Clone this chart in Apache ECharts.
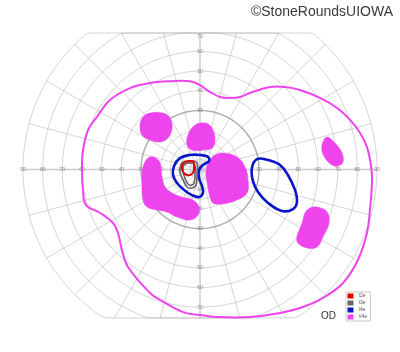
<!DOCTYPE html>
<html><head><meta charset="utf-8">
<script src="https://cdn.jsdelivr.net/npm/echarts@6/dist/echarts.min.js"></script>
<style>html,body{margin:0;padding:0;background:#fff}#c{width:400px;height:352px}</style>
</head><body><div id="c"></div>
<script>
// ---- grid definition (degrees) ----
const ringRadii = [5, 10, 15, 20, 30, 40, 50, 60, 70, 80, 90];
const darkRing = 30;
const meridianAngles = [0,15,30,45,60,75,90,105,120,135,150,165,180,195,210,225,240,255,270,285,300,315,330,345];
const bandTop = 69.4;      // chart is cut flat at these eccentricities
const bandBottom = -75.5;
const hTickLabels = [10,20,30,40,50,60,70,80,90];
const vTopLabels = [10,20,30,40,50,60,70];
const vBottomLabels = [10,20,30,40,50,60,70];

// ---- isopters, [x (deg, + = right), y (deg, + = up)] ----
const isoV4eOutline = [
  [-56.9,20.1],[-52.4,26.7],[-45.8,35.3],[-35.6,41.4],[-25.4,44.0],[-15.3,44.9],[-5.1,44.9],[0,42.9],
  [5.1,39.4],[10.2,36.9],[15.3,36.4],[20.3,36.9],[25.4,38.9],[35.6,41.9],[43.2,41.9],[50.8,40.4],
  [61.0,36.4],[69.7,31.3],[76.3,25.2],[81.4,18.6],[84.9,11.4],[86.9,2.3],[87.5,-5.3],[86.4,-20.6],
  [84.9,-32.3],[80.3,-46.0],[72.7,-57.7],[62.5,-65.3],[52.4,-69.9],[40.7,-73.0],[25.4,-75.0],[8.6,-75.0],
  [0,-74.0],[-8.6,-72.5],[-20.3,-66.3],[-25.4,-62.8],[-36.6,-49.6],[-39.7,-40.9],[-41.7,-32.3],[-44.2,-27.2],
  [-50.8,-22.1],[-58.0,-18.0],[-59.5,-10.4],[-60.0,-0.3],[-59.5,9.9]
];
const scotomaA = [[-25.4,28.7],[-18.8,28.7],[-15.3,26.2],[-14.2,21.1],[-16.3,16.0],[-20.3,14.0],[-25.4,15.0],[-29.5,17.5],[-30.5,22.6],[-29.0,26.7]];
const scotomaB = [[0,23.6],[4.1,23.1],[6.6,20.1],[7.6,15.0],[6.1,10.9],[1.5,9.9],[-4.1,9.9],[-6.6,12.5],[-6.1,17.5],[-3.6,21.6]];
const scotomaC = [[-25.4,6.4],[-20.8,4.3],[-19.3,-3.8],[-17.8,-8.9],[-14.2,-11.9],[-9.2,-14.0],[-3.6,-15.5],[-0.5,-19.1],[-1.0,-23.1],[-5.1,-25.7],[-11.7,-24.2],[-16.8,-21.6],[-21.9,-20.6],[-26.9,-19.1],[-29.0,-15.5],[-29.5,-6.9],[-29.0,1.3]];
const scotomaD = [[11.7,8.4],[18.8,6.4],[22.9,1.3],[24.4,-5.3],[23.9,-11.9],[18.8,-15.5],[11.7,-17.5],[6.6,-17.0],[5.1,-14.0],[3.6,-6.9],[3.1,-0.3],[5.1,4.8],[7.6,7.4]];
const scotomaE = [[64.6,16.5],[68.6,13.5],[72.2,8.4],[72.7,3.8],[70.2,1.8],[67.1,2.3],[63.6,5.8],[62.0,9.9],[62.5,14.0]];
const scotomaF = [[59.5,-19.1],[64.6,-21.6],[65.6,-27.2],[62.5,-34.3],[59.5,-39.4],[54.4,-39.9],[49.8,-37.4],[49.3,-34.3],[51.9,-27.2],[53.4,-22.1],[55.9,-19.6]];
const isoI4eCentral = [[-10.2,5.8],[-5.1,7.4],[0,7.4],[4.1,6.4],[4.6,4.3],[1.5,2.3],[-0.5,-0.3],[-0.5,-4.3],[1.0,-8.4],[1.5,-11.9],[-0.5,-14.0],[-4.1,-13.0],[-8.1,-10.4],[-11.7,-6.9],[-13.7,-2.8],[-13.2,1.8]];
const isoI4eBlindSpot = [[29.0,5.3],[34.6,4.8],[40.7,2.3],[44.7,-2.8],[48.3,-10.4],[49.3,-16.5],[47.3,-20.1],[41.7,-21.1],[34.6,-17.0],[29.5,-11.4],[26.9,-5.8],[26.4,0.8]];
const isoI3eOuter = [[-8.6,3.8],[-4.1,4.3],[-1.5,3.3],[-1.5,-1.8],[-2.0,-7.9],[-4.1,-9.4],[-6.6,-8.9],[-8.6,-5.3],[-10.2,-1.3],[-9.7,2.3]];
const isoI3eInner = [[-7.6,2.8],[-4.1,3.3],[-2.5,2.0],[-2.5,-2.0],[-3.0,-7.0],[-4.6,-8.0],[-6.1,-7.4],[-7.6,-4.6],[-8.6,-1.0],[-8.4,1.5]];
const isoI2e = [[-7.6,3.8],[-4.1,4.3],[-3.1,3.3],[-3.1,-0.3],[-4.1,-2.3],[-6.6,-2.8],[-8.6,-1.3],[-9.2,1.8]];

const legendNames = ['I2e','I3e','I4e','V4e'];
const colors = {I2e:'#e00000', I3e:'#666666', I4e:'#0a14c8', V4e:'#ee44ee'};

// ---- build grid polylines ----
const clampY = y => Math.max(bandBottom, Math.min(bandTop, y));
const gridLines = [];
ringRadii.forEach(r => {
  const pts = [];
  for (let a = 0; a <= 360; a += 2) {
    const t = a * Math.PI / 180;
    pts.push([r * Math.cos(t), clampY(r * Math.sin(t))]);
  }
  gridLines.push({coords: pts, lineStyle: r === darkRing
    ? {color:'#555555', width:1.4} : {color:'#ababab', width:1}});
});
meridianAngles.forEach(a => {
  const t = a * Math.PI / 180, sn = Math.sin(t), cs = Math.cos(t);
  let re = 90;
  if (sn > 1e-6) re = Math.min(90, bandTop / sn);
  else if (sn < -1e-6) re = Math.min(90, bandBottom / sn);
  const axis = a % 90 === 0;
  gridLines.push({coords: [[0,0],[re*cs, re*sn]],
    lineStyle: axis ? {color:'#999999', width:1.4} : {color:'#ababab', width:1}});
});

const labelItems = [];
hTickLabels.forEach(v => { labelItems.push([v, 0, v]); labelItems.push([-v, 0, v]); });
vTopLabels.forEach(v => labelItems.push([0, Math.min(v, 67.8), v]));
vBottomLabels.forEach(v => labelItems.push([0, -v, v]));

function shapeSeries(name, shapes, fill, width, z) {
  return {
    type: 'custom', name, coordinateSystem: 'cartesian2d', clip: false, silent: true, z,
    itemStyle: {color: colors[name]},
    data: shapes.map(() => [0, 0]),
    renderItem(params, api) {
      const pts = shapes[params.dataIndex].map(p => api.coord(p));
      return {type: 'polygon', shape: {points: pts, smooth: 0.4},
        style: fill ? {fill: colors[name], stroke: colors[name], lineWidth: 0.5}
                    : {fill: 'none', stroke: colors[name], lineWidth: width}};
    }
  };
}

const s = 177 / 90, cx = 200, cy = 169.5;
const chart = echarts.init(document.getElementById('c'), null, {renderer: 'canvas'});
chart.setOption({
  animation: false,
  backgroundColor: '#fff',
  title: {text: '©StoneRoundsUIOWA', right: 2, top: 0,
    textStyle: {fontSize: 14, fontWeight: 'normal', color: '#3a3a3a', fontFamily: 'Liberation Sans'}},
  grid: {left: cx - 95*s, top: cy - 75*s, width: 190*s, height: 155*s},
  xAxis: {type: 'value', min: -95, max: 95, show: false},
  yAxis: {type: 'value', min: -80, max: 75, show: false},
  legend: {
    data: legendNames, orient: 'vertical', left: 346, top: 292,
    itemWidth: 6, itemHeight: 5, itemGap: 2, icon: 'rect',
    padding: [1.5, 3, 1.5, 1.5], borderColor: '#c8c8c8', borderWidth: 1,
    textStyle: {fontSize: 5, color: '#555', fontFamily: 'Liberation Sans'},
    selectedMode: false
  },
  graphic: [{type: 'text', left: 321, top: 311,
    style: {text: 'OD', font: '10px "Liberation Sans"', fill: '#333'}}],
  series: [
    {type: 'lines', coordinateSystem: 'cartesian2d', polyline: true, silent: true, z: 1,
     data: gridLines},
    {type: 'custom', coordinateSystem: 'cartesian2d', silent: true, clip: false, z: 2,
     data: labelItems.map(d => [d[0], d[1]]),
     renderItem(params, api) {
       const p = api.coord([api.value(0), api.value(1)]);
       return {type: 'text', x: p[0], y: p[1],
         style: {text: String(labelItems[params.dataIndex][2]), fill: '#8a8a8a',
           font: '5px "Liberation Sans"', align: 'center', verticalAlign: 'middle'}};
     }},
    shapeSeries('V4e', [scotomaA, scotomaB, scotomaC, scotomaD, scotomaE, scotomaF], true, 0, 3),
    shapeSeries('V4e', [isoV4eOutline], false, 2, 4),
    shapeSeries('I4e', [isoI4eCentral, isoI4eBlindSpot], false, 2.6, 5),
    shapeSeries('I3e', [isoI3eOuter, isoI3eInner], false, 1.6, 6),
    shapeSeries('I2e', [isoI2e], false, 2, 7)
  ]
});
</script></body></html>
